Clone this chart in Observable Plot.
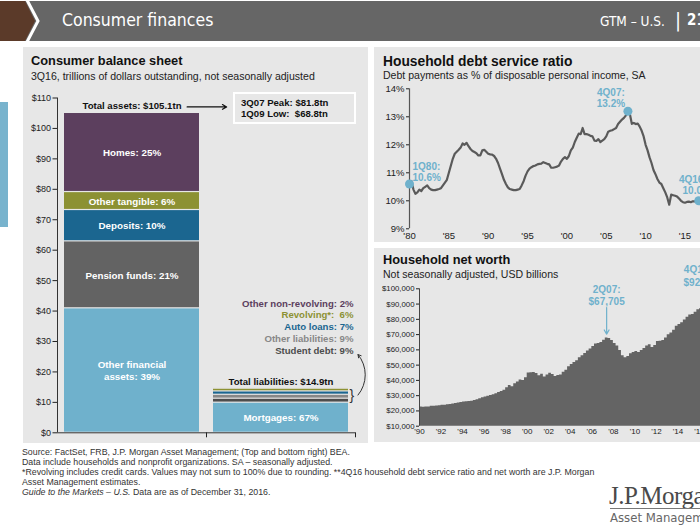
<!DOCTYPE html>
<html><head><meta charset="utf-8">
<script src="https://cdn.jsdelivr.net/npm/d3@7"></script>
<script src="https://cdn.jsdelivr.net/npm/@observablehq/plot@0.6"></script>
<style>
html,body{margin:0;padding:0;background:#fff;}
#page{position:relative;width:700px;height:525px;overflow:hidden;font-family:"Liberation Sans",Arial,sans-serif;color:#222;}
.panel{position:absolute;background:#e7e7e7;}
.t{position:absolute;white-space:nowrap;line-height:1;}
.ttl{font-weight:bold;font-size:12.8px;color:#111;}
.sub{font-size:10.55px;color:#222;}
.hd{color:#fff;font-family:"Liberation Sans Narrow","DejaVu Sans Condensed","Roboto Condensed",sans-serif;font-stretch:condensed;}
.ft{font-size:8.8px;color:#333;}
.bx{font-weight:bold;font-size:9.6px;color:#111;}
</style></head>
<body><div id="page">
<svg width="700" height="42" style="position:absolute;left:0;top:0">
  <rect x="0" y="1" width="700" height="40" fill="#666"/>
  <polygon points="0,1 25,1 35,21 25,41 0,41" fill="#5b3a29"/>
  <polyline points="27,0 38,21 27,42" fill="none" stroke="#fff" stroke-width="3"/>
</svg>
<div class="t hd" style="left:62px;top:12px;font-size:17.5px;">Consumer finances</div>
<div class="t hd" style="left:600px;top:14.5px;font-size:13.5px;">GTM – U.S.</div>
<div class="t hd" style="left:675px;top:10px;font-size:20px;">|</div>
<div class="t hd" style="left:687px;top:13px;font-size:15px;font-weight:bold;">21</div>

<div style="position:absolute;left:0;top:102px;width:8px;height:125px;background:#78b3cd;"></div>
<div class="panel" style="left:23px;top:47px;width:345px;height:396px;"></div>
<div class="panel" style="left:374px;top:47px;width:326px;height:195px;"></div>
<div class="panel" style="left:374px;top:248px;width:326px;height:194px;"></div>

<div class="t ttl" style="left:31px;top:55px;">Consumer balance sheet</div>
<div class="t sub" style="left:31px;top:70.5px;">3Q16, trillions of dollars outstanding, not seasonally adjusted</div>
<div class="t ttl" style="left:383px;top:55px;font-size:13.8px;">Household debt service ratio</div>
<div class="t sub" style="left:383px;top:69.5px;">Debt payments as % of disposable personal income, SA</div>
<div class="t ttl" style="left:383px;top:254px;">Household net worth</div>
<div class="t sub" style="left:383px;top:268.5px;">Not seasonally adjusted, USD billions</div>

<div style="position:absolute;left:233px;top:92px;width:119px;height:28px;border:2px solid #fff;"></div>
<div class="t bx" style="left:241px;top:98px;">3Q07 Peak: $81.8tn</div>
<div class="t bx" style="left:241px;top:108.5px;">1Q09 Low:&nbsp; $68.8tn</div>

<div class="t ft" style="left:22px;top:447.5px;">Source: FactSet, FRB, J.P. Morgan Asset Management; (Top and bottom right) BEA.</div>
<div class="t ft" style="left:22px;top:457.5px;">Data include households and nonprofit organizations. SA – seasonally adjusted.</div>
<div class="t ft" style="left:22px;top:467.5px;">*Revolving includes credit cards. Values may not sum to 100% due to rounding. **4Q16 household debt service ratio and net worth are J.P. Morgan</div>
<div class="t ft" style="left:22px;top:477.5px;">Asset Management estimates.</div>
<div class="t ft" style="left:22px;top:487.5px;"><i>Guide to the Markets – U.S.</i> Data are as of December 31, 2016.</div>

<div class="t" style="left:609px;top:483px;font-family:'Liberation Serif','DejaVu Serif',serif;font-size:25px;color:#4a4a4a;letter-spacing:-0.5px;">J.P.Morgan</div>
<div style="position:absolute;left:610px;top:508px;width:90px;height:1px;background:#777;"></div>
<div class="t" style="left:610px;top:511px;font-size:13px;color:#666;font-family:'Liberation Sans Narrow','DejaVu Sans Condensed',sans-serif;font-stretch:condensed;">Asset Management</div>
</div>
<script>
// ---------- Consumer balance sheet (trillions USD, 3Q16) ----------
const assetCats = ["Other financial assets", "Pension funds", "Deposits", "Other tangible", "Homes"];
const assetValues = [40.9, 22.0, 10.3, 5.9, 26.0];
const assetLabels = ["Other financial\nassets: 39%", "Pension funds: 21%", "Deposits: 10%", "Other tangible: 6%", "Homes: 25%"];
const assetColors = ["#6fb1cc", "#636363", "#1b6690", "#8c9133", "#5c3f5e"];
const liabCats = ["Mortgages", "Student debt", "Other liabilities", "Auto loans", "Revolving*", "Other non-revolving"];
const liabValues = [9.9, 1.3, 1.3, 1.1, 0.9, 0.4];
const liabLabels = ["Mortgages: 67%", "Student debt: 9%", "Other liabilities: 9%", "Auto loans: 7%", "Revolving*:  6%", "Other non-revolving: 2%"];
const liabColors = ["#6fb1cc", "#4d4d4d", "#878787", "#1b6690", "#8c9133", "#5c3f5e"];
const totalAssets = 105.1;
const totalLiab = 14.9;
const bsTicks = [0, 10, 20, 30, 40, 50, 60, 70, 80, 90, 100, 110];

// ---------- Household debt service ratio (% , quarterly from 1Q80) ----------
const dsrStartYear = 1980;
const dsrValues = [
  10.6, 10.7, 10.4, 10.25,   10.3, 10.4, 10.35, 10.45,   10.5, 10.55, 10.45, 10.4,
  10.38, 10.38, 10.4, 10.42, 10.45, 10.55, 10.65, 10.75, 11.0, 11.25, 11.5, 11.68,
  11.75, 11.82, 11.9, 12.05, 12.0, 12.07, 11.95, 11.85,  11.78, 11.74, 11.7, 11.62,
  11.62, 11.8, 11.82, 11.75, 11.68, 11.66, 11.65, 11.6,  11.5, 11.35, 11.15, 10.95,
  10.75, 10.6, 10.48, 10.42, 10.4, 10.38, 10.38, 10.4,   10.42, 10.55, 10.7, 10.9,
  11.05, 11.15, 11.2, 11.24, 11.26, 11.3, 11.32, 11.33,  11.38, 11.35, 11.32, 11.3,
  11.18, 11.18, 11.2, 11.22, 11.26, 11.4, 11.5, 11.56,   11.5, 11.6, 11.8, 11.9,
  12.1, 12.25, 12.4, 12.38,  12.6, 12.38, 12.38, 12.36,  12.32, 12.3, 12.15, 12.14,
  12.2, 12.1, 12.15, 12.2,   12.3, 12.47, 12.5, 12.52,   12.56, 12.6, 12.74, 12.82,
  12.9, 12.96, 13.05, 13.2,  13.1, 12.75, 12.78, 12.74,  12.76, 12.65, 12.5, 12.3,
  12.0, 11.8, 11.55, 11.35,  11.1, 10.95, 10.78, 10.65,  10.6, 10.45, 10.3, 10.12,
  9.86, 10.22, 10.2, 10.18,  10.15, 10.08, 10.0, 9.95,   9.93, 9.96, 9.97, 9.95,
  9.98, 9.98, 10.0, 10.0
];
const dsrYTicks = [9, 10, 11, 12, 13, 14];
const dsrXTicks = [1980, 1985, 1990, 1995, 2000, 2005, 2010, 2015];
const dsrFirstLabel = "1Q80:\n10.6%";
const dsrPeakLabel = "4Q07:\n13.2%";
const dsrLastLabel = "4Q16**:\n10.0%";

// ---------- Household net worth (USD billions, quarterly from 1Q90) ----------
const nwStartYear = 1990;
const nwValues = [
  22500, 22400, 22500, 22600,  23000, 23100, 23200, 23400,  23700, 23800, 24000, 24200,
  24600, 24900, 25200, 25500,  25800, 26000, 26200, 26400,  26900, 27400, 28000, 28600,
  29200, 29600, 30100, 30600,  31200, 32000, 32800, 33500,  35200, 36600, 35800, 37800,
  39000, 40200, 40000, 41800,  44800, 45000, 45200, 44500,  43000, 44100, 42300, 43600,
  44700, 43800, 42600, 43200,  43500, 45300, 46600, 48900,  50400, 51800, 52800, 54900,
  56200, 57600, 59300, 60600,  62200, 63800, 64200, 64900,  66300, 67705, 67500, 66100,
  64200, 62600, 59600, 56200,  54800, 55700, 57500, 58200,  59000, 58200, 59600, 60900,
  62500, 63300, 61600, 62900,  65400, 65600, 66200, 67800,  69900, 71100, 72800, 75400,
  76600, 77800, 79500, 81300,  82800, 83100, 84700, 86200,  86900, 88200, 89600, 92800
];
const nwYTicks = [10000, 20000, 30000, 40000, 50000, 60000, 70000, 80000, 90000, 100000];
const nwXTicks = [1990, 1992, 1994, 1996, 1998, 2000, 2002, 2004, 2006, 2008, 2010, 2012, 2014, 2016];
const nwPeakLabel = "2Q07:\n$67,705";
const nwLastLabel = "4Q16**:\n$92,836";

const FONT = "'Liberation Sans', Arial, sans-serif";
const HI = "#6fb1cc";
const page = document.getElementById("page");
function place(svg, left, top) {
  svg.style.position = "absolute";
  svg.style.left = left + "px";
  svg.style.top = top + "px";
  svg.style.overflow = "visible";
  page.appendChild(svg);
}

// ---- chart 1 ----
function stack(values, col, cats, labels, colors) {
  let c = 0;
  return values.map((v, i) => ({col, cat: cats[i], label: labels[i], color: colors[i], y1: c, y2: (c += v)}));
}
const assetRows = stack(assetValues, 0, assetCats, assetLabels, assetColors);
const liabRows = stack(liabValues, 1, liabCats, liabLabels, liabColors);
const legendRows = liabRows.slice(1);

const legendMarks = legendRows.map((d, k) =>
  Plot.text([d], {x: r => r.col + 1, y: () => totalLiab, text: "label", fill: "color",
    textAnchor: "end", dx: -2, dy: -37 - k * 11.7, fontWeight: "bold", fontSize: 9.6}));

const c1 = Plot.plot({
  width: 345, height: 360,
  marginLeft: 34, marginRight: 13, marginTop: 12.5, marginBottom: 12.7,
  x: {domain: [0, 2]},
  y: {domain: [0, 110]},
  style: {background: "transparent", fontFamily: FONT, color: "#222", overflow: "visible"},
  marks: [
    Plot.rect(assetRows.concat(liabRows), {x1: d => d.col, x2: d => d.col + 1, y1: "y1", y2: "y2", fill: "color",
      insetLeft: 7, insetRight: 7, insetTop: 0.6, insetBottom: 0.6}),
    Plot.text(assetRows, {x: d => d.col + 0.5, y: d => (d.y1 + d.y2) / 2, text: "label", fill: "white",
      fontWeight: "bold", fontSize: 9.8, lineHeight: 1.2}),
    Plot.text(liabRows.slice(0, 1), {x: d => d.col + 0.5, y: d => (d.y1 + d.y2) / 2, text: "label", fill: "white",
      fontWeight: "bold", fontSize: 9.8}),
    Plot.axisY({ticks: bsTicks, tickFormat: d => "$" + d, tickSize: 4.5, tickPadding: 2, fontSize: 9, label: null}),
    Plot.axisX({ticks: [1, 2], tickSize: 5, tickFormat: () => "", label: null}),
    Plot.ruleX([0], {y1: 0, y2: 110, stroke: "#333"}),
    Plot.ruleY([0], {x1: 0, x2: 2, stroke: "#333"}),
    Plot.text([totalAssets], {x: () => 0.5, y: d => d, text: d => "Total assets: $" + d + "tn", dy: -7,
      fontWeight: "bold", fontSize: 9.6, fill: "#111"}),
    Plot.arrow([totalAssets], {x1: () => 0.87, x2: () => 1.135, y1: d => d, y2: d => d, dy: -6,
      stroke: "#111", strokeWidth: 1.2, headLength: 6}),
    Plot.text([totalLiab], {x: () => 1.5, y: d => d, text: d => "Total liabilities: $" + d + "tn", dy: -6,
      fontWeight: "bold", fontSize: 9.6, fill: "#111"}),
    ...legendMarks,
    Plot.text([(liabRows[0].y2 + totalLiab) / 2], {x: () => 2, y: d => d, text: () => "}", textAnchor: "start",
      dx: -6, fontSize: 14, fill: "#333"}),
    Plot.arrow([(liabRows[0].y2 + totalLiab) / 2], {x1: () => 2, y1: d => d, x2: () => 2, y2: () => totalLiab + 10.8,
      dx: 2.5, bend: -40, stroke: "#333", strokeWidth: 1, headLength: 5})
  ]
});
place(c1, 23, 85);

// ---- chart 2 ----
const dsr = dsrValues.map((v, i) => ({t: dsrStartYear + i / 4, v}));
const dsrFirst = dsr[0];
const dsrPeak = dsr[d3.maxIndex(dsr, d => d.v)];
const dsrLast = dsr[dsr.length - 1];
const c2 = Plot.plot({
  width: 340, height: 167,
  marginLeft: 35, marginRight: 13.8, marginTop: 10.3, marginBottom: 16.7,
  x: {domain: [1980, 2017]},
  y: {domain: [9, 14]},
  style: {background: "transparent", fontFamily: FONT, color: "#222", overflow: "visible"},
  marks: [
    Plot.axisY({ticks: dsrYTicks, tickFormat: d => d + "%", tickSize: 3, tickPadding: 2, fontSize: 9.5, label: null}),
    Plot.axisX({ticks: dsrXTicks, tickFormat: d => "'" + String(d).slice(2), tickSize: 0, tickPadding: 3, fontSize: 9.5, label: null}),
    Plot.ruleX([1980], {y1: 9, y2: 14, stroke: "#555", strokeWidth: 1.2}),
    Plot.line(dsr, {x: "t", y: "v", stroke: "#5a5a5a", strokeWidth: 2.2}),
    Plot.dot([dsrFirst, dsrPeak, dsrLast], {x: "t", y: "v", r: 4.5, fill: HI}),
    Plot.text([dsrFirst], {x: "t", y: "v", text: () => dsrFirstLabel, textAnchor: "start", lineAnchor: "bottom",
      dx: 3, dy: -3, fill: HI, fontWeight: "bold", fontSize: 10, lineHeight: 1.1}),
    Plot.text([dsrPeak], {x: "t", y: "v", text: () => dsrPeakLabel, lineAnchor: "bottom",
      dx: -17, dy: -4, fill: HI, fontWeight: "bold", fontSize: 10, lineHeight: 1.1}),
    Plot.text([dsrLast], {x: "t", y: "v", text: () => dsrLastLabel, lineAnchor: "bottom",
      dx: -2, dy: -7, fill: HI, fontWeight: "bold", fontSize: 10, lineHeight: 1.1})
  ]
});
place(c2, 374, 78);

// ---- chart 3 ----
const nw = nwValues.map((v, i) => ({t: nwStartYear + i / 4, v}));
const nwPeak = nw.find(d => d.v === 67705);
const nwLast = nw[nw.length - 1];
const c3 = Plot.plot({
  width: 345, height: 190,
  marginLeft: 45, marginRight: 9.2, marginTop: 38.3, marginBottom: 14.3,
  x: {domain: [1990, 2017]},
  y: {domain: [10000, 100000]},
  style: {background: "transparent", fontFamily: FONT, color: "#222", overflow: "visible"},
  marks: [
    Plot.areaY(nw, {x: "t", y1: () => 10000, y2: "v", curve: "step-after", fill: "#646464"}),
    Plot.axisY({ticks: nwYTicks, tickFormat: d3.format("$,"), tickSize: 3, tickPadding: 2, fontSize: 7.8, label: null}),
    Plot.axisX({ticks: nwXTicks, tickFormat: d => "'" + String(d).slice(2), tickSize: 0, tickPadding: 2, fontSize: 8, label: null}),
    Plot.ruleX([1990], {y1: 10000, y2: 100000, stroke: "#444"}),
    Plot.text([nwPeak], {x: d => d.t + 0.125, y: "v", text: () => nwPeakLabel, lineAnchor: "bottom",
      dy: -33, fill: HI, fontWeight: "bold", fontSize: 10, lineHeight: 1.25}),
    Plot.arrow([nwPeak], {x1: d => d.t + 0.125, x2: d => d.t + 0.125, y1: d => d.v + 20000, y2: "v",
      insetEnd: 4, stroke: HI, strokeWidth: 1.2, headLength: 6}),
    Plot.text([nwLast], {x: "t", y: "v", text: () => nwLastLabel, lineAnchor: "bottom",
      dx: -6, dy: -14, fill: HI, fontWeight: "bold", fontSize: 10, lineHeight: 1.25})
  ]
});
place(c3, 374, 250);
</script>
</body></html>
